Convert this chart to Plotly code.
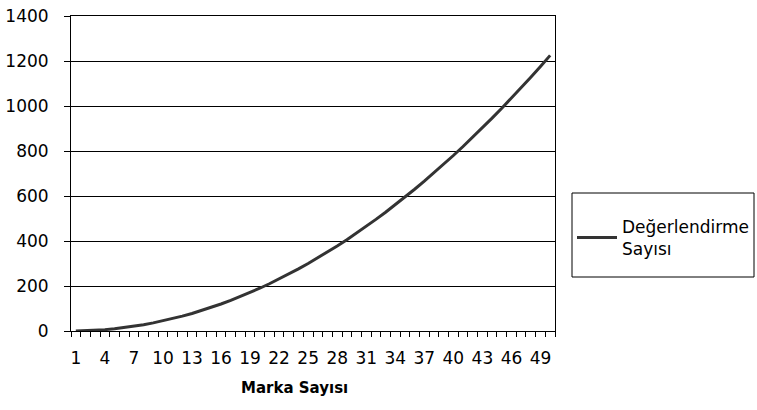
import plotly.graph_objects as go

marka = list(range(1, 51))
degerlendirme = [0, 1, 3, 6, 10, 15, 21, 28, 36, 45, 55, 66, 78, 91, 105, 120, 136, 153, 171, 190,
                 210, 231, 253, 276, 300, 325, 351, 378, 406, 435, 465, 496, 528, 561, 595, 630, 666,
                 703, 741, 780, 820, 861, 903, 946, 990, 1035, 1081, 1128, 1176, 1225]
x_labels = list(range(1, 51, 3))
y_ticks = list(range(0, 1401, 200))

fig = go.Figure()
fig.add_trace(go.Scatter(x=marka, y=degerlendirme, mode="lines",
                         name="Değerlendirme<br>Sayısı",
                         line=dict(color="#333333", width=3)))

FAM = "DejaVu Sans, Verdana, sans-serif"
L, R, T, B = 71, 202, 16, 79
pw, ph = 757 - L - R, 410 - T - B

fig.add_shape(type="rect", xref="paper", yref="paper",
              x0=(572 - L) / pw, x1=(754 - L) / pw,
              y0=(410 - B - 277) / ph, y1=(410 - B - 193) / ph,
              line=dict(color="#000000", width=1), fillcolor="rgba(0,0,0,0)")

fig.add_annotation(text="<b>Marka Sayısı</b>", xref="paper", yref="paper",
                   x=(294 - L) / pw, y=-(388 - (410 - B)) / ph,
                   xanchor="center", yanchor="middle", showarrow=False,
                   font=dict(family=FAM, size=15, color="#000000"))

fig.update_layout(
    width=757, height=410,
    margin=dict(l=L, r=R, t=T, b=B, autoexpand=False),
    paper_bgcolor="white", plot_bgcolor="white",
    font=dict(family=FAM, size=17, color="#000000"),
    showlegend=True,
    legend=dict(x=(572 - L) / pw, xanchor="left", y=(410 - B - 238) / ph, yanchor="middle",
                borderwidth=0, bgcolor="rgba(0,0,0,0)",
                font=dict(family=FAM, size=17, color="#000000"),
                itemwidth=40, tracegroupgap=0),
    xaxis=dict(range=[0.5, 50.5], tickvals=x_labels, ticktext=[str(v) for v in x_labels],
               ticks="", showgrid=False, zeroline=False, automargin=False,
               showline=True, linecolor="#000000", linewidth=1, mirror=True,
               ticklabelstandoff=12,
               minor=dict(ticks="outside", tick0=0.5, dtick=1, ticklen=5, tickcolor="#000000", showgrid=False),
               tickfont=dict(family=FAM, size=17)),
    yaxis=dict(range=[0, 1400], tickvals=y_ticks, ticks="outside", ticklen=6, tickcolor="#000000",
               showgrid=True, gridcolor="#000000", gridwidth=0.6, zeroline=False, automargin=False,
               showline=True, linecolor="#000000", linewidth=1, mirror=True,
               ticklabelstandoff=12,
               tickfont=dict(family=FAM, size=17)),
)
fig.write_html("out.html", config={"displayModeBar": False},
               post_script="document.body.style.margin='0';")
